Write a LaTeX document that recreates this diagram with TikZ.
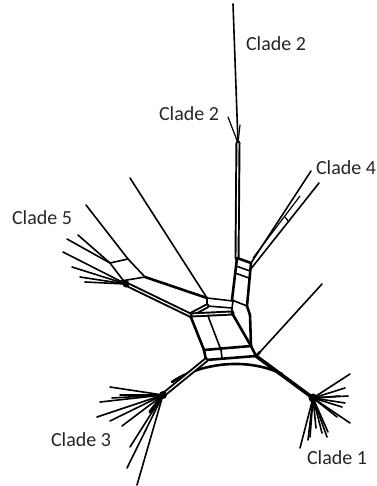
\documentclass[tikz,border=0pt]{standalone}
\usepackage{fontspec}
\setmainfont{Carlito}
\begin{document}
\begin{tikzpicture}[x=1pt,y=-1pt,line join=round,line cap=round,
  edge/.style={draw=black,line width=1.6pt},
  fine/.style={draw=black,line width=1.2pt},
  heavy/.style={draw=black,line width=2.6pt},
  dbl/.style={draw=black,line width=5pt,postaction={draw=white,line width=1.1pt}},
  lbl/.style={font=\fontsize{20}{23}\selectfont,inner sep=0pt,text=black!85}]
\useasboundingbox (0,0) rectangle (376,486);
% ---------- coordinates ----------
\coordinate (c2top) at (233,4);
\coordinate (c2j) at (238,143);
\coordinate (U1) at (237,258);
\coordinate (U2) at (251,263);
\coordinate (U3) at (232,300);
\coordinate (U4) at (247,306);
\coordinate (L1) at (207,298);
\coordinate (L2) at (233,301);
\coordinate (L3) at (207,306);
\coordinate (L4) at (232,308);
\coordinate (B1) at (190,315);
\coordinate (B2) at (232,313);
\coordinate (B3) at (204,350);
\coordinate (B4) at (251,346);
\coordinate (B5) at (206,360);
\coordinate (B6) at (256,356);
\coordinate (Bm1) at (208,316);
\coordinate (Bm2) at (221,350);
\coordinate (R1) at (260,352);
\coordinate (f1) at (313,398);
\coordinate (f3) at (163,395);
\coordinate (f5) at (126,284);
\coordinate (p5a) at (110,263);
\coordinate (p5b) at (128,259);
\coordinate (p5c) at (145,277);
\coordinate (p5d) at (121,281);
% ---------- Clade 2 ----------
\draw[edge] (c2top) -- (c2j);
\draw[fine] (c2j) -- (240,125);
\draw[dbl] (c2j) -- (U1);
\draw[fine] (228,117) -- (c2j);
% ---------- upper box ----------
\draw[heavy] (U1) -- (U2);
\draw[edge] (236,266) -- (250,271);
\draw[edge] (235,273) -- (249,278);
\draw[heavy] (U1) -- (U3);
\draw[heavy] (U2) -- (U4);
\draw[edge] (U3) -- (U4);
% ---------- Clade 4 ----------
\draw[edge] (U2) -- (311,171);
\draw[edge] (250,270) -- (319,183);
\draw[fine] (253,258) -- (300,196);
\draw[fine] (285,217) -- (289,222);
% ---------- upper-left box ----------
\draw[edge] (L1) -- (L2);
\draw[edge] (L3) -- (L4);
\draw[heavy] (L1) -- (L3);
\draw[edge] (L2) -- (L4);
\draw[heavy] (U3) -- (L2);
\draw[heavy] (L4) -- (B2);
\draw[heavy] (U4) -- (250,315);
% ---------- big box ----------
\draw[dbl] (L3) -- (B1);
\draw[dbl] (B1) -- (B2);
\draw[heavy] (B1) -- (B3);
\draw[edge] (Bm1) -- (Bm2);
\draw[heavy] (B2) -- (B4);
\draw[heavy] (250,315) -- (B4);
\draw[heavy] (B3) -- (B4);
\draw[heavy] (B5) -- (B6);
\draw[heavy] (B3) -- (B5);
\draw[edge] (Bm2) -- (222,358);
\draw[heavy] (B4) -- (B6);
\draw[heavy] (B6) -- (R1);
% ---------- right single line ----------
\draw[edge] (R1) -- (322,284);
% ---------- lower outline from Clade 3 to Clade 1 ----------
\draw[heavy] (172,382) .. controls (195,366) and (242,355) .. (282,374);
% ---------- Clade 1 ----------
\draw[line width=3.6pt] (B6) -- (f1);
\foreach \p in {(350,374),(345,388),(348,396),(345,403),(342,407),(350,423),(337,417),(328,432),(327,437),(322,433),(310,437),(308,440),(300,448),(316,428),(340,396)}
  \draw[edge] (f1) -- \p;
\fill (f1) circle (4.5);
% ---------- Clade 3 ----------
\draw[dbl] (B5) -- (f3);
\foreach \p in {(110,387),(100,402),(97,417),(110,421),(122,426),(130,447),(127,468),(137,485),(112,398),(120,395)}
  \draw[edge] (f3) -- \p;
\draw[line width=3.4pt] (f3) -- (150,412);
\fill (f3) circle (4);
% ---------- Clade 5 ----------
\draw[edge] (130,178) -- (L1);
\draw[edge] (86,205) -- (p5b);
\draw[edge] (78,235) -- (p5a);
\draw[edge] (67,239) -- (p5a);
\draw[edge] (63,252) -- (f5);
\draw[edge] (72,267) -- (f5);
\draw[edge] (80,277) -- (f5);
\draw[edge] (85,282) -- (f5);
\draw[edge] (p5a) -- (p5b);
\draw[edge] (p5a) -- (f5);
\draw[edge] (p5d) -- (p5c);
\draw[edge] (p5b) -- (p5c);
\draw[heavy] (p5c) -- (L1);
\draw[dbl] (f5) -- (B1);
\fill (f5) circle (3.5);
% ---------- labels ----------
\node[lbl] (lab2a) at (276,44) {Clade 2};
\node[lbl] (lab2b) at (189,114) {Clade 2};
\node[lbl] (lab4) at (346,168) {Clade 4};
\node[lbl] (lab5) at (42,218) {Clade 5};
\node[lbl] (lab3) at (81,440) {Clade 3};
\node[lbl] (lab1) at (337,458) {Clade 1};
\end{tikzpicture}
\end{document}
